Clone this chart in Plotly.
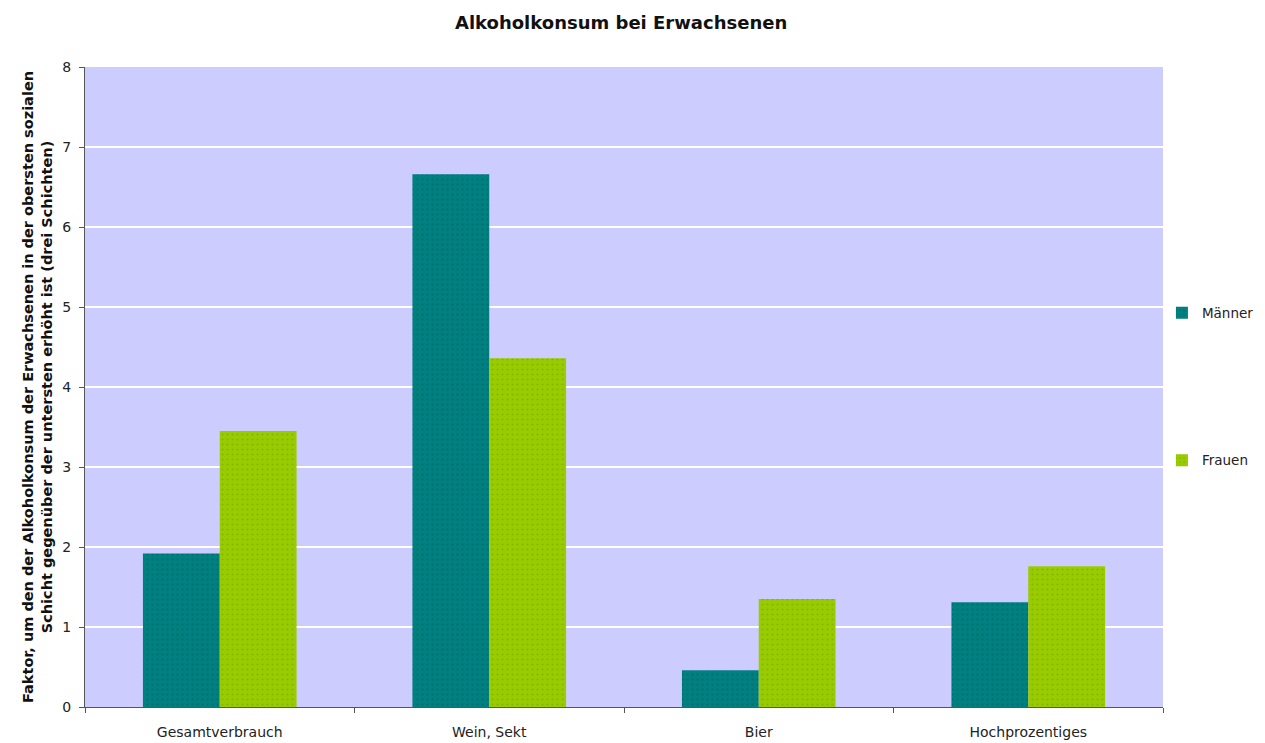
import plotly.graph_objects as go

categories = ["Gesamtverbrauch", "Wein, Sekt", "Bier", "Hochprozentiges"]
maenner = [1.92, 6.66, 0.46, 1.31]
frauen = [3.45, 4.36, 1.35, 1.76]
y_ticks = [0, 1, 2, 3, 4, 5, 6, 7, 8]

FONT = "DejaVu Sans, Verdana, sans-serif"

fig = go.Figure()
fig.add_trace(go.Bar(
    x=categories, y=maenner, name="Männer", legendgroup="m",
    marker=dict(color="#008080", line=dict(width=0),
                pattern=dict(shape=".", fgcolor="#005a5a", size=5, solidity=0.15)),
))
fig.add_trace(go.Bar(
    x=categories, y=frauen, name="Frauen", legendgroup="f",
    marker=dict(color="#99CC00", line=dict(width=0),
                pattern=dict(shape=".", fgcolor="#6f9a00", size=5, solidity=0.15)),
))

fig.update_layout(
    width=1265, height=743,
    margin=dict(l=85, r=102, t=67, b=36, autoexpand=False),
    paper_bgcolor="white",
    plot_bgcolor="#CCCCFF",
    font=dict(family=FONT, size=13, color="#222"),
    title=dict(text="<b>Alkoholkonsum bei Erwachsenen</b>", x=0.491, xanchor="center",
               y=0.97, yanchor="middle", font=dict(family=FONT, size=18, color="#111")),
    barmode="group",
    bargap=0.43,
    bargroupgap=0,
    legend=dict(x=0.999, xanchor="left", y=0.64, yanchor="top",
                tracegroupgap=127, font=dict(family=FONT, size=13.5, color="#222"),
                itemwidth=30, traceorder="grouped", bgcolor="rgba(0,0,0,0)"),
    xaxis=dict(showline=True, linecolor="#555", linewidth=1, ticks="outside",
               tickson="boundaries", ticklen=5, tickcolor="#555",
               showgrid=False, tickfont=dict(size=14), ticklabelstandoff=12),
    yaxis=dict(range=[0, 8], tickvals=y_ticks, showline=True, linecolor="#555",
               linewidth=1, ticks="outside", ticklen=5, tickcolor="#555",
               gridcolor="white", gridwidth=1.5, zeroline=False,
               tickfont=dict(size=14), ticklabelstandoff=5,
               title=dict(text="<b>Faktor, um den der Alkoholkonsum der Erwachsenen in der obersten sozialen<br>Schicht gegenüber der untersten erhöht ist (drei Schichten)</b>",
                          font=dict(family=FONT, size=14.5, color="#111"), standoff=6)),
)

fig.write_html("out.html")
